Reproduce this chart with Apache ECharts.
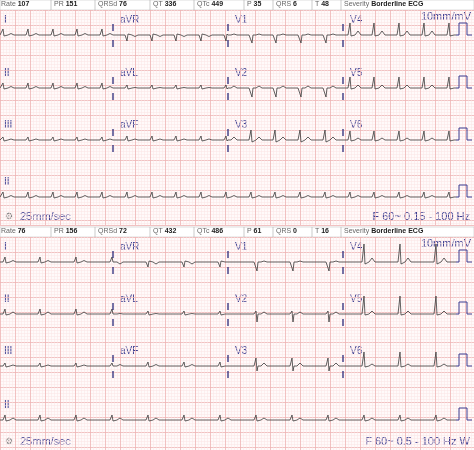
<!DOCTYPE html>
<html>
<head>
<meta charset="utf-8">
<script src="https://cdn.jsdelivr.net/npm/echarts@6/dist/echarts.min.js"></script>
<style>html,body{margin:0;padding:0;background:#fff}#chart{width:474px;height:450px}</style>
</head>
<body>
<div id="chart"></div>
<script>
// column edges of the 3x4 layout, calibration pulse after the last one
const colEdges = [0, 113, 228, 343, 456];
const leadNames = [['I', 'aVR', 'V1', 'V4'], ['II', 'aVL', 'V2', 'V5'], ['III', 'aVF', 'V3', 'V6']];

// beat (R peak) positions per record
const beats1 = [3, 28, 53, 77, 102, 127, 152, 176, 201, 226, 251, 275, 300, 325, 350, 374, 399, 424, 449];
const beats2 = [5, 40, 76, 112, 148, 184, 220, 256, 292, 328, 364, 400, 436];

// amplitudes per lead: [P, Q, R, S, T]
const amp1 = {
  I: [1, 0, 6, -1, 1.5], II: [1, 0, 5, -1, 1.5], III: [0.5, 0, 3, -1, 1],
  aVR: [-1, 0, -6, 1, -1.5], aVL: [0.5, 0, 3, -1, 0.5], aVF: [1, 0, 4, -1, 1],
  V1: [0.5, 0, 1, -8, 1], V2: [0.5, 0, 2, -9, 2], V3: [0.5, 0, 10, -2, 3],
  V4: [1, 0, 12, -1, 4], V5: [1, 0, 11, -1, 3], V6: [1, 0, 9, -1, 2]
};
const amp2 = {
  I: [1, 0, 5, -1, 1.5], II: [1, 0, 5, -1, 2], III: [0.5, 0, 3, -1, 1],
  aVR: [-1, 0, -5, 1, -2], aVL: [0.5, 0, 3, -1, 0.5], aVF: [1, 0, 4, -1, 1.5],
  V1: [0.5, 0, 2, -9, 1], V2: [0.5, 0, 3, -8, 2], V3: [0.5, 0, 8, -5, 3],
  V4: [1, 0, 18, -2, 4], V5: [1, 0, 18, -1, 3], V6: [1, 0, 14, -1, 2]
};

const header1 = [['Rate', '107'], ['PR', '151'], ['QRSd', '76'], ['QT', '336'], ['QTc', '449'], ['P', '35'], ['QRS', '6'], ['T', '48'], ['Severity', 'Borderline ECG']];
const header2 = [['Rate', '76'], ['PR', '156'], ['QRSd', '72'], ['QT', '432'], ['QTc', '486'], ['P', '61'], ['QRS', '0'], ['T', '16'], ['Severity', 'Borderline ECG']];
const headerX = [0, 53, 97, 152, 196, 246, 275, 314, 343];

const rowBase1 = [25, 78, 130, 187];
const rowBase2 = [25, 77, 129, 183];
const panelTop = [10, 237];
const panelH = [215, 213];

// offsets of each wave point from the R peak
const waveDx = [-10, -8, -6, -2, -1, 0, 1, 2, 5, 8, 11];

function beatPoints(b, a) {
  const ys = [0, a[0], 0, 0, a[1], a[2], a[3], 0, 0, a[4], 0];
  return waveDx.map((d, i) => [b + d, ys[i]]);
}

function trace(beats, a, x0, x1, base) {
  const pts = [[x0, base]];
  beats.forEach(b => {
    beatPoints(b, a).forEach(p => {
      if (p[0] > x0 && p[0] < x1) pts.push([p[0], base - p[1]]);
    });
  });
  pts.push([x1, base]);
  return pts;
}

const series = [];
const graphic = [];
const lineStyle = { color: '#3a3a3a', width: 0.8 };

function addPanel(pi, beats, amps, bases, header, filt) {
  for (let r = 0; r < 3; r++) {
    for (let c = 0; c < 4; c++) {
      const name = leadNames[r][c];
      series.push({
        type: 'line', xAxisIndex: pi, yAxisIndex: pi, symbol: 'none', silent: true,
        lineStyle, data: trace(beats, amps[name], colEdges[c], colEdges[c + 1], bases[r])
      });
      graphic.push({
        type: 'text', left: colEdges[c] + (c ? 7 : 4), top: panelTop[pi] + bases[r] - 20,
        style: { text: name, fill: '#3b3b8f', font: '10px Arial' }
      });
      if (c) {
        const x = colEdges[c], b = bases[r];
        series.push({
          type: 'line', xAxisIndex: pi, yAxisIndex: pi, symbol: 'none', silent: true,
          lineStyle: { color: '#2a2a7a', width: 1.3 }, connectNulls: false,
          data: [[x, b - 11], [x, b - 4], null, [x, b + 5], [x, b + 12]]
        });
      }
    }
  }
  series.push({
    type: 'line', xAxisIndex: pi, yAxisIndex: pi, symbol: 'none', silent: true,
    lineStyle, data: trace(beats, amps.II, 0, 456, bases[3])
  });
  graphic.push({
    type: 'text', left: 4, top: panelTop[pi] + bases[3] - 20,
    style: { text: 'II', fill: '#3b3b8f', font: '10px Arial' }
  });
  bases.forEach(b => {
    series.push({
      type: 'line', xAxisIndex: pi, yAxisIndex: pi, symbol: 'none', silent: true,
      lineStyle: { color: '#3b3b8f', width: 1 },
      data: [[456, b], [459, b], [459, b - 12], [467, b - 12], [467, b], [472, b]]
    });
  });
  // header bar
  const hy = panelTop[pi] - 10;
  graphic.push({ type: 'rect', shape: { x: 0, y: hy, width: 474, height: 10 }, style: { fill: '#fff', stroke: '#bbb', lineWidth: 0.5 } });
  header.forEach((h, i) => {
    graphic.push({
      type: 'text', left: headerX[i] + 1, top: hy + 1,
      style: { rich: { n: { fill: '#666', font: '7px Arial' }, v: { fill: '#222', font: 'bold 7px Arial' } }, text: '{n|' + h[0] + ' }{v|' + h[1] + '}' }
    });
    if (i) graphic.push({ type: 'line', shape: { x1: headerX[i] - 2, y1: hy, x2: headerX[i] - 2, y2: hy + 10 }, style: { stroke: '#aaa', lineWidth: 0.6 } });
  });
  graphic.push({
    type: 'text', right: 3, top: panelTop[pi] + 1,
    style: { text: '10mm/mV', fill: '#3b3b8f', font: '11px Arial' }
  });
  const by = panelTop[pi] + panelH[pi] - 14;
  graphic.push({ type: 'text', left: 5, top: by + 1, style: { text: '⚙', fill: '#777', font: '9px DejaVu Sans' } });
  graphic.push({ type: 'text', left: 20, top: by, style: { text: '25mm/sec', fill: '#3b3b8f', font: '11px Arial' } });
  graphic.push({ type: 'text', right: 4, top: by, style: { text: filt, fill: '#3b3b8f', font: '11px Arial' } });
}

addPanel(0, beats1, amp1, rowBase1, header1, 'F 60~ 0.15 - 100 Hz');
addPanel(1, beats2, amp2, rowBase2, header2, 'F 60~ 0.5 - 100 Hz W');

function xAx(i) {
  return {
    gridIndex: i, type: 'value', min: 0, max: 474, interval: 15, axisLabel: { show: false },
    axisLine: { show: false }, axisTick: { show: false },
    splitLine: { show: true, lineStyle: { color: '#eeb4b4', width: 0.8 } },
    minorTick: { show: false, splitNumber: 5 },
    minorSplitLine: { show: true, lineStyle: { color: '#fae4e4', width: 0.5 } }
  };
}
function yAx(i) {
  return {
    gridIndex: i, type: 'value', min: 0, max: panelH[i], interval: 15, inverse: true, axisLabel: { show: false },
    axisLine: { show: false }, axisTick: { show: false },
    splitLine: { show: true, lineStyle: { color: '#eeb4b4', width: 0.8 } },
    minorTick: { show: false, splitNumber: 5 },
    minorSplitLine: { show: true, lineStyle: { color: '#fae4e4', width: 0.5 } }
  };
}

const chart = echarts.init(document.getElementById('chart'));
chart.setOption({
  animation: false,
  backgroundColor: '#fffafa',
  grid: [
    { left: 0, right: 0, top: panelTop[0], height: panelH[0] },
    { left: 0, right: 0, top: panelTop[1], height: panelH[1] }
  ],
  xAxis: [xAx(0), xAx(1)],
  yAxis: [yAx(0), yAx(1)],
  series,
  graphic
});
</script>
</body>
</html>
